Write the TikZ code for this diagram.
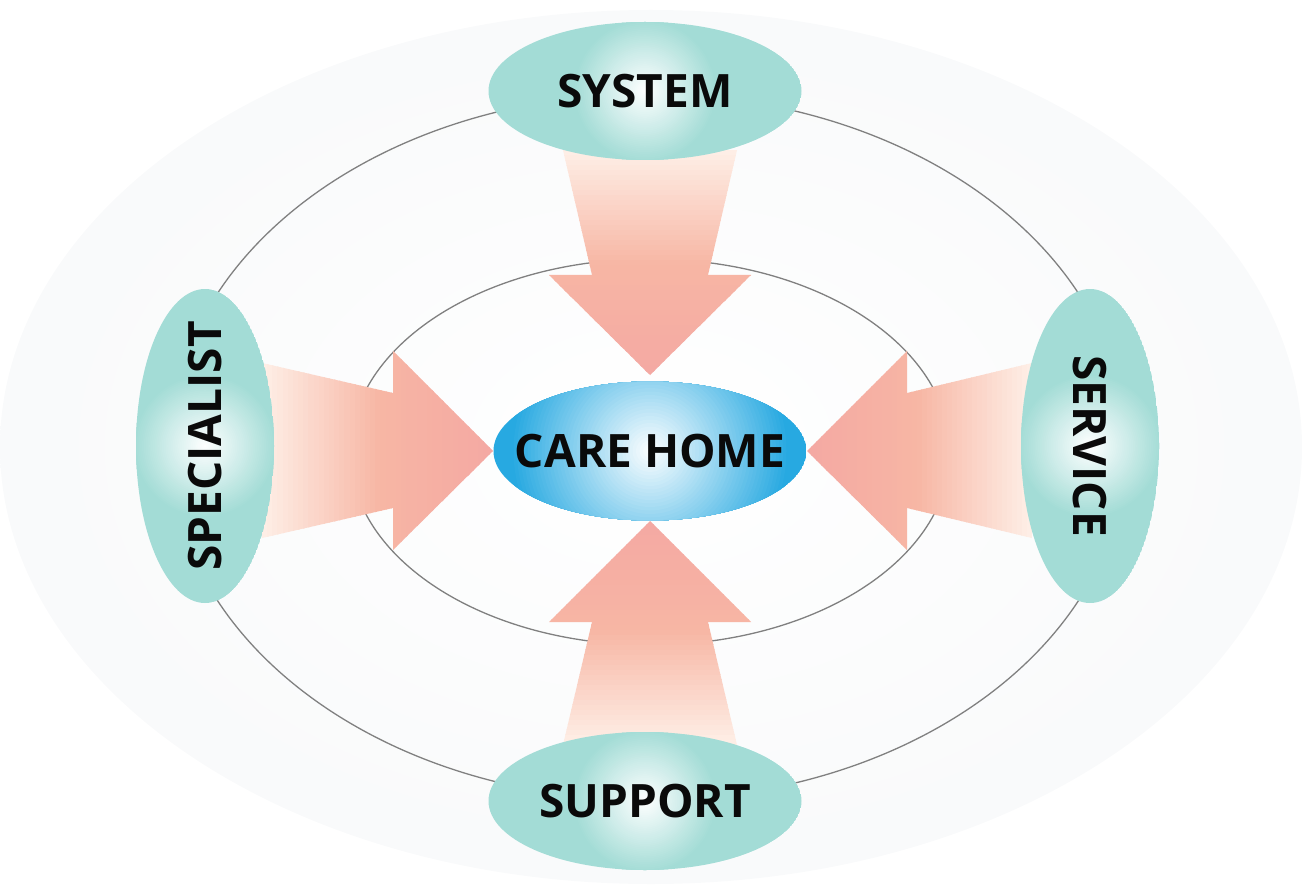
\documentclass[tikz,border=0pt]{standalone}
\usepackage{fontspec}
\setmainfont{Open Sans}
\usepackage{xcolor}
\usepackage{tikz}
\usetikzlibrary{calc,backgrounds}
\definecolor{ink}{HTML}{0A0A0A}
\definecolor{mint}{HTML}{A3DCD6}
\definecolor{skyblue}{HTML}{27A9E1}
\definecolor{haze}{HTML}{F2F3F5}
\definecolor{hazemid}{HTML}{F8F9FA}
\definecolor{ringgray}{HTML}{808080}
\definecolor{peach}{HTML}{FEEEE6}
\definecolor{salmon}{HTML}{F7B6A4}
\definecolor{rose}{HTML}{F4A8A3}
\pgfdeclareradialshading{hazeglow}{\pgfpoint{0bp}{0bp}}{color(0bp)=(white); color(28bp)=(hazemid); color(50bp)=(haze)}
% oval with a round white glow in its middle: centre, x radius, y radius, colour, glow radius
\newcommand{\glowoval}[5]{%
  \begin{scope}
    \clip #1 ellipse [x radius=#2, y radius=#3];
    \fill[#4] #1 ellipse [x radius=#2, y radius=#3];
    \foreach \k in {40,...,1}{%
      \pgfmathsetmacro\glowr{#5*\k/40}%
      \pgfmathsetmacro\mix{100*\k/40}%
      \fill[#4!\mix!white] #1 circle [radius=\glowr];
    }
  \end{scope}}
% block arrow filled peach -> salmon -> rose: outline, first strip corner, step, strip extent
\newcommand{\blockarrow}[4]{%
  \begin{scope}
    \clip #1;
    \foreach \k in {0,...,45}{%
      \pgfmathsetmacro\mixa{min(100,200*\k/45)}%
      \pgfmathsetmacro\mixb{max(0,200*\k/45-100)}%
      \fill[rose!\mixb!salmon!\mixa!peach] ($#2+\k*#3$) rectangle ++($1.3*#3+#4$);
    }
  \end{scope}}
\tikzset{
  lbl/.style={inner sep=0pt, font=\fontsize{46}{48}\selectfont\bfseries, text=ink},
  ring/.style={draw=ringgray, line width=1.3pt}
}
\begin{document}
\begin{tikzpicture}[x=1pt, y=-1pt]
  \useasboundingbox (0,0) rectangle (1303,893);
  \node[lbl] (care) at (650,451) {CARE HOME};
  \node[lbl] (system) at (645,91) {SYSTEM};
  \node[lbl] (support) at (645,801) {SUPPORT};
  \node[lbl, rotate=90] (specialist) at (205,446) {SPECIALIST};
  \node[lbl, rotate=-90] (service) at (1090,446) {SERVICE};
  \begin{scope}[on background layer]
    % backdrop and rings
    \shade[shading=hazeglow] (651,447) ellipse [x radius=651, y radius=437];
    \draw[ring] (648,447) ellipse [x radius=478, y radius=353];
    \draw[ring] (650,452) ellipse [x radius=300, y radius=193];
    % block arrows into the hub
    \blockarrow{($(care)+(0,-76)$) -- ++(-101,-100) -- ++(43,0) -- ++(-29,-125)
      -- ++(174,0) -- ++(-29,125) -- ++(43,0) -- cycle}{(500,150)}{(0,5)}{(300,0)}
    \blockarrow{($(care)+(0,70)$) -- ++(-101,101) -- ++(43,0) -- ++(-29,123)
      -- ++(174,0) -- ++(-29,-123) -- ++(43,0) -- cycle}{(500,745)}{(0,-5)}{(300,0)}
    \blockarrow{($(care)+(-157,0)$) -- ++(-100,-100) -- ++(0,42) -- ++(-131,-30)
      -- ++(0,175) -- ++(131,-30) -- ++(0,42) -- cycle}{(262,300)}{(5.15,0)}{(0,300)}
    \blockarrow{($(care)+(157,0)$) -- ++(100,-100) -- ++(0,42) -- ++(125,-30)
      -- ++(0,175) -- ++(-125,-30) -- ++(0,42) -- cycle}{(1032,300)}{(-5,0)}{(0,300)}
    % the ovals behind the labels
    \glowoval{(system)}{156.5}{69}{mint}{72}
    \glowoval{(support)}{156.5}{69}{mint}{72}
    \glowoval{(specialist)}{69}{157}{mint}{72}
    \glowoval{(service)}{69}{157}{mint}{72}
    \glowoval{(care)}{156.5}{69.5}{skyblue}{140}
  \end{scope}
\end{tikzpicture}
\end{document}
